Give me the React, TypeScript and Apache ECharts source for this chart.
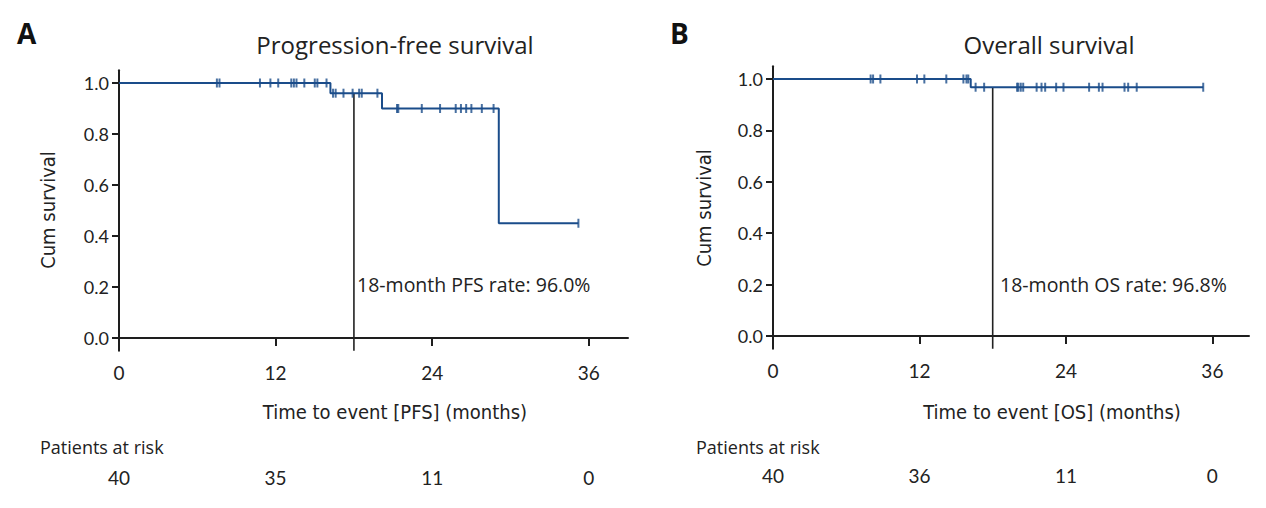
import React, { useEffect, useRef } from "react";
import * as echarts from "echarts";

// ---- data ----
const xTicks = [0, 12, 24, 36];
const yTicks = [0, 0.2, 0.4, 0.6, 0.8, 1.0];

// Panel A: PFS (time in months, survival after event)
const pfsEventTimes = [0, 16.2, 20.15, 29.1, 35.2];
const pfsSurvival = [1.0, 0.96, 0.9, 0.45, 0.45];
const pfsCensorTimes = [
  7.5, 7.7, 10.8, 11.6, 12.2, 13.2, 13.4, 13.6, 14.2, 15.0, 15.2, 15.9,
  16.4, 16.6, 17.2, 17.9, 18.4, 18.6, 19.8, 21.3, 21.4, 23.2, 24.6, 25.8,
  26.2, 26.6, 27.0, 27.8, 28.7, 35.2,
];
const pfsRisk = [40, 35, 11, 0];
const pfsLandmark = 18;
const pfsLandmarkRate = 0.96;

// Panel B: OS
const osEventTimes = [0, 16.2, 35.25];
const osSurvival = [1.0, 0.968, 0.968];
const osCensorTimes = [
  8.0, 8.2, 8.8, 11.8, 12.4, 14.2, 15.6, 15.85, 16.0, 16.6, 17.3, 20.0,
  20.1, 20.3, 20.5, 21.6, 22.0, 22.3, 23.2, 23.8, 25.9, 26.7, 27.0, 28.8,
  29.1, 29.8, 35.25,
];
const osRisk = [40, 36, 11, 0];
const osLandmark = 18;
const osLandmarkRate = 0.968;

const BLUE = "#1a4c8a";
const AX = "#1e1e1e";
const FONT = "Lato, 'Open Sans', sans-serif";
const WIDE = "'Open Sans', Lato, sans-serif";
const NARROW = "'Liberation Sans Narrow', 'DejaVu Sans Condensed', Lato, sans-serif";

function levelAt(times: number[], surv: number[], t: number) {
  let s = surv[0];
  for (let i = 0; i < times.length; i++) if (times[i] <= t) s = surv[i];
  return s;
}

export default function App() {
  const ref = useRef<HTMLDivElement>(null);
  useEffect(() => {
    document.body.style.margin = "0";
    const chart = echarts.init(ref.current!, undefined, { renderer: "svg" });

    const xAxisBase = (gridIndex: number) => ({
      type: "value",
      gridIndex,
      min: 0,
      max: 39,
      axisLine: { show: true, lineStyle: { color: AX, width: 2 } },
      axisTick: { show: true, length: 8, lineStyle: { color: AX, width: 2 }, customValues: xTicks },
      axisLabel: { color: "#222", fontSize: 19, fontFamily: FONT, margin: 12, customValues: xTicks },
      splitLine: { show: false },
    });
    const riskAxis = (gridIndex: number, risk: number[]) => ({
      type: "value",
      gridIndex,
      position: "bottom",
      offset: 109,
      min: 0,
      max: 39,
      axisLine: { show: false },
      axisTick: { show: false },
      splitLine: { show: false },
      axisLabel: {
        color: "#222",
        fontSize: 19,
        fontFamily: FONT,
        customValues: xTicks,
        formatter: (v: number) => String(risk[xTicks.indexOf(Math.round(v))] ?? ""),
      },
    });
    const yAxisBase = (gridIndex: number) => ({
      type: "value",
      gridIndex,
      min: -0.05,
      max: 1.05,
      axisLine: { show: true, lineStyle: { color: AX, width: 2 } },
      axisTick: { show: true, length: 7, lineStyle: { color: AX, width: 2 }, customValues: yTicks },
      axisLabel: {
        color: "#222",
        fontSize: 18,
        fontFamily: FONT,
        margin: 10,
        customValues: yTicks,
        formatter: (v: number) => v.toFixed(1),
      },
      splitLine: { show: false },
    });

    const kmSeries = (idx: number, times: number[], surv: number[], censors: number[], lm: number, lmRate: number) => [
      {
        type: "line",
        xAxisIndex: idx * 2,
        yAxisIndex: idx,
        step: "end",
        data: times.map((t, i) => [t, surv[i]]),
        showSymbol: false,
        lineStyle: { color: BLUE, width: 2 },
        z: 3,
      },
      {
        type: "scatter",
        xAxisIndex: idx * 2,
        yAxisIndex: idx,
        data: censors.map((t) => [t, levelAt(times, surv, t)]),
        symbol: "rect",
        symbolSize: [2, 9],
        itemStyle: { color: BLUE },
        z: 4,
      },
      {
        type: "line",
        xAxisIndex: idx * 2,
        yAxisIndex: idx,
        data: [
          [lm, lmRate],
          [lm, -0.05],
        ],
        showSymbol: false,
        lineStyle: { color: "#222", width: 1.6 },
        z: 2,
      },
    ];

    chart.setOption({
      animation: false,
      grid: [
        { left: 119, right: 638, top: 70.25, bottom: 157.25, outerBoundsMode: "none", containLabel: false },
        { left: 773, right: 17, top: 66.15, bottom: 159.15, outerBoundsMode: "none", containLabel: false },
      ],
      xAxis: [xAxisBase(0), riskAxis(0, pfsRisk), xAxisBase(1), riskAxis(1, osRisk)],
      yAxis: [yAxisBase(0), yAxisBase(1)],
      series: [
        ...kmSeries(0, pfsEventTimes, pfsSurvival, pfsCensorTimes, pfsLandmark, pfsLandmarkRate),
        ...kmSeries(1, osEventTimes, osSurvival, osCensorTimes, osLandmark, osLandmarkRate),
      ],
      graphic: [
        { type: "text", x: 17, y: 19, style: { text: "A", fontSize: 28, fontWeight: "bold", fontFamily: WIDE, fill: "#111" } },
        { type: "text", x: 670, y: 19, style: { text: "B", fontSize: 28, fontWeight: "bold", fontFamily: WIDE, fill: "#111" } },
        { type: "text", x: 395, y: 44, style: { text: "Progression-free survival", fontSize: 24, fontFamily: WIDE, fill: "#222", align: "center", verticalAlign: "middle" } },
        { type: "text", x: 1049, y: 44, style: { text: "Overall survival", fontSize: 24, fontFamily: WIDE, fill: "#222", align: "center", verticalAlign: "middle" } },
        { type: "text", x: 48, y: 210, rotation: Math.PI / 2, style: { text: "Cum survival", fontSize: 20, fontFamily: NARROW, fill: "#222", align: "center", verticalAlign: "middle" } },
        { type: "text", x: 704, y: 208, rotation: Math.PI / 2, style: { text: "Cum survival", fontSize: 20, fontFamily: NARROW, fill: "#222", align: "center", verticalAlign: "middle" } },
        { type: "text", x: 395, y: 412, style: { text: "Time to event [PFS] (months)", fontSize: 20, fontFamily: NARROW, fill: "#222", align: "center", verticalAlign: "middle" } },
        { type: "text", x: 1052, y: 412, style: { text: "Time to event [OS] (months)", fontSize: 20, fontFamily: NARROW, fill: "#222", align: "center", verticalAlign: "middle" } },
        { type: "text", x: 357, y: 284, style: { text: "18-month PFS rate: 96.0%", fontSize: 19.5, fontFamily: WIDE, fill: "#222", verticalAlign: "middle" } },
        { type: "text", x: 1000, y: 284, style: { text: "18-month OS rate: 96.8%", fontSize: 19.5, fontFamily: WIDE, fill: "#222", verticalAlign: "middle" } },
        { type: "text", x: 40, y: 447, style: { text: "Patients at risk", fontSize: 18, fontFamily: WIDE, fill: "#222", verticalAlign: "middle" } },
        { type: "text", x: 696, y: 447, style: { text: "Patients at risk", fontSize: 18, fontFamily: WIDE, fill: "#222", verticalAlign: "middle" } },
      ],
    });
    return () => chart.dispose();
  }, []);
  return <div ref={ref} style={{ width: 1266, height: 508 }} />;
}
